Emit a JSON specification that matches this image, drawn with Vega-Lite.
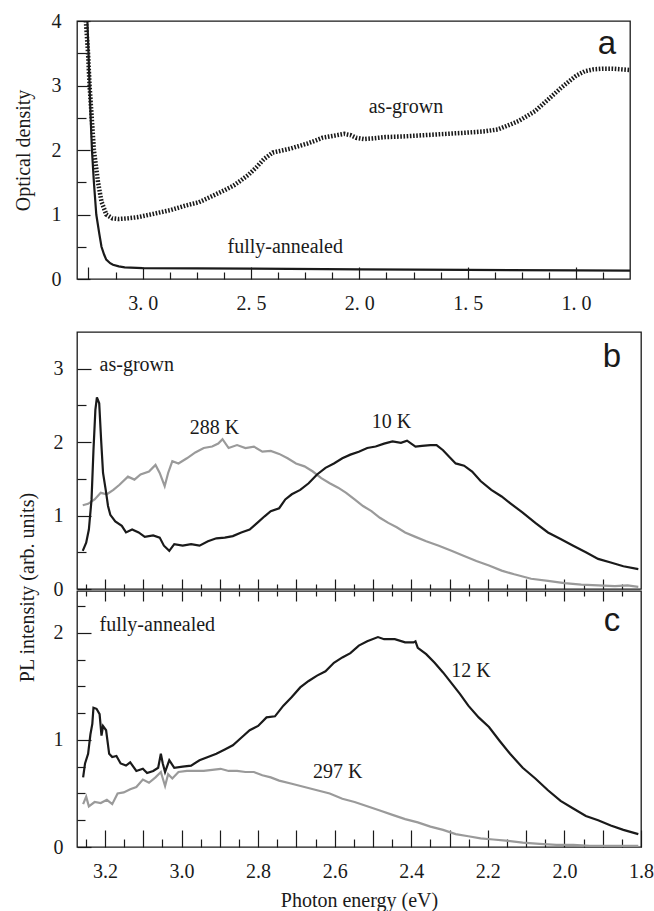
{
  "$schema": "https://vega.github.io/schema/vega-lite/v6.json",
  "padding": {"left": 12, "top": 10, "right": 4, "bottom": 0},
  "config": {
    "view": {"stroke": "#1a1a1a", "strokeWidth": 1.3},
    "axis": {"domain": false, "grid": false, "tickColor": "#1a1a1a", "tickWidth": 1.2,
      "labelFont": "Liberation Serif", "labelFontSize": 20, "labelColor": "#1a1a1a",
      "titleFont": "Liberation Serif", "titleFontSize": 20, "titleFontWeight": "normal", "titleColor": "#1a1a1a",
      "labelFlush": false, "labelOverlap": false, "labelBound": false}
  },
  "datasets": {
    "absorb": [
      {"E":3.268,"V":4.2,"s":"as-grown"},{"E":3.262,"V":4.0,"s":"as-grown"},{"E":3.252,"V":3.5,"s":"as-grown"},{"E":3.245,"V":3.0,"s":"as-grown"},{"E":3.235,"V":2.5,"s":"as-grown"},{"E":3.225,"V":2.0,"s":"as-grown"},{"E":3.206,"V":1.5,"s":"as-grown"},{"E":3.19,"V":1.2,"s":"as-grown"},{"E":3.168,"V":1.0,"s":"as-grown"},{"E":3.14,"V":0.94,"s":"as-grown"},{"E":3.11,"V":0.93,"s":"as-grown"},{"E":3.07,"V":0.94,"s":"as-grown"},{"E":3.02,"V":0.96,"s":"as-grown"},{"E":2.95,"V":1.01,"s":"as-grown"},{"E":2.87,"V":1.07,"s":"as-grown"},{"E":2.8,"V":1.14,"s":"as-grown"},{"E":2.74,"V":1.19,"s":"as-grown"},{"E":2.67,"V":1.3,"s":"as-grown"},{"E":2.62,"V":1.38,"s":"as-grown"},{"E":2.58,"V":1.45,"s":"as-grown"},{"E":2.55,"V":1.52,"s":"as-grown"},{"E":2.51,"V":1.62,"s":"as-grown"},{"E":2.476,"V":1.73,"s":"as-grown"},{"E":2.44,"V":1.86,"s":"as-grown"},{"E":2.4,"V":1.96,"s":"as-grown"},{"E":2.36,"V":1.99,"s":"as-grown"},{"E":2.32,"V":2.02,"s":"as-grown"},{"E":2.28,"V":2.06,"s":"as-grown"},{"E":2.24,"V":2.1,"s":"as-grown"},{"E":2.2,"V":2.15,"s":"as-grown"},{"E":2.17,"V":2.19,"s":"as-grown"},{"E":2.12,"V":2.22,"s":"as-grown"},{"E":2.07,"V":2.25,"s":"as-grown"},{"E":2.04,"V":2.23,"s":"as-grown"},{"E":2.015,"V":2.19,"s":"as-grown"},{"E":1.98,"V":2.17,"s":"as-grown"},{"E":1.94,"V":2.18,"s":"as-grown"},{"E":1.88,"V":2.2,"s":"as-grown"},{"E":1.8,"V":2.21,"s":"as-grown"},{"E":1.7,"V":2.23,"s":"as-grown"},{"E":1.6,"V":2.25,"s":"as-grown"},{"E":1.5,"V":2.27,"s":"as-grown"},{"E":1.42,"V":2.29,"s":"as-grown"},{"E":1.36,"V":2.32,"s":"as-grown"},{"E":1.33,"V":2.36,"s":"as-grown"},{"E":1.3,"V":2.4,"s":"as-grown"},{"E":1.265,"V":2.45,"s":"as-grown"},{"E":1.23,"V":2.52,"s":"as-grown"},{"E":1.19,"V":2.6,"s":"as-grown"},{"E":1.15,"V":2.72,"s":"as-grown"},{"E":1.11,"V":2.84,"s":"as-grown"},{"E":1.07,"V":2.96,"s":"as-grown"},{"E":1.03,"V":3.07,"s":"as-grown"},{"E":1.0,"V":3.15,"s":"as-grown"},{"E":0.96,"V":3.22,"s":"as-grown"},{"E":0.92,"V":3.25,"s":"as-grown"},{"E":0.88,"V":3.26,"s":"as-grown"},{"E":0.83,"V":3.26,"s":"as-grown"},{"E":0.79,"V":3.25,"s":"as-grown"},{"E":0.751,"V":3.24,"s":"as-grown"},
      {"E":3.262,"V":4.2,"s":"fully-annealed"},{"E":3.255,"V":4.0,"s":"fully-annealed"},{"E":3.25,"V":3.5,"s":"fully-annealed"},{"E":3.245,"V":3.0,"s":"fully-annealed"},{"E":3.24,"V":2.5,"s":"fully-annealed"},{"E":3.234,"V":2.0,"s":"fully-annealed"},{"E":3.225,"V":1.5,"s":"fully-annealed"},{"E":3.214,"V":1.0,"s":"fully-annealed"},{"E":3.2,"V":0.7,"s":"fully-annealed"},{"E":3.19,"V":0.5,"s":"fully-annealed"},{"E":3.178,"V":0.38,"s":"fully-annealed"},{"E":3.168,"V":0.3,"s":"fully-annealed"},{"E":3.15,"V":0.245,"s":"fully-annealed"},{"E":3.137,"V":0.22,"s":"fully-annealed"},{"E":3.11,"V":0.195,"s":"fully-annealed"},{"E":3.083,"V":0.18,"s":"fully-annealed"},{"E":3.0,"V":0.17,"s":"fully-annealed"},{"E":2.5,"V":0.16,"s":"fully-annealed"},{"E":2.0,"V":0.15,"s":"fully-annealed"},{"E":1.5,"V":0.14,"s":"fully-annealed"},{"E":1.0,"V":0.135,"s":"fully-annealed"},{"E":0.751,"V":0.13,"s":"fully-annealed"}
    ],
    "plb": [
      {"E":3.258,"V":0.52,"s":"10 K"},{"E":3.249,"V":0.63,"s":"10 K"},{"E":3.242,"V":0.81,"s":"10 K"},{"E":3.235,"V":1.22,"s":"10 K"},{"E":3.23,"V":1.89,"s":"10 K"},{"E":3.225,"V":2.44,"s":"10 K"},{"E":3.221,"V":2.61,"s":"10 K"},{"E":3.215,"V":2.53,"s":"10 K"},{"E":3.21,"V":2.03,"s":"10 K"},{"E":3.205,"V":1.58,"s":"10 K"},{"E":3.198,"V":1.35,"s":"10 K"},{"E":3.192,"V":1.13,"s":"10 K"},{"E":3.186,"V":1.01,"s":"10 K"},{"E":3.173,"V":0.92,"s":"10 K"},{"E":3.156,"V":0.86,"s":"10 K"},{"E":3.145,"V":0.77,"s":"10 K"},{"E":3.129,"V":0.81,"s":"10 K"},{"E":3.112,"V":0.77,"s":"10 K"},{"E":3.096,"V":0.71,"s":"10 K"},{"E":3.074,"V":0.73,"s":"10 K"},{"E":3.057,"V":0.7,"s":"10 K"},{"E":3.046,"V":0.59,"s":"10 K"},{"E":3.032,"V":0.52,"s":"10 K"},{"E":3.019,"V":0.61,"s":"10 K"},{"E":2.997,"V":0.59,"s":"10 K"},{"E":2.975,"V":0.61,"s":"10 K"},{"E":2.953,"V":0.59,"s":"10 K"},{"E":2.931,"V":0.65,"s":"10 K"},{"E":2.909,"V":0.69,"s":"10 K"},{"E":2.887,"V":0.7,"s":"10 K"},{"E":2.866,"V":0.72,"s":"10 K"},{"E":2.844,"V":0.77,"s":"10 K"},{"E":2.822,"V":0.81,"s":"10 K"},{"E":2.8,"V":0.91,"s":"10 K"},{"E":2.783,"V":0.99,"s":"10 K"},{"E":2.767,"V":1.06,"s":"10 K"},{"E":2.745,"V":1.1,"s":"10 K"},{"E":2.729,"V":1.22,"s":"10 K"},{"E":2.712,"V":1.29,"s":"10 K"},{"E":2.69,"V":1.35,"s":"10 K"},{"E":2.668,"V":1.44,"s":"10 K"},{"E":2.646,"V":1.56,"s":"10 K"},{"E":2.624,"V":1.65,"s":"10 K"},{"E":2.602,"V":1.71,"s":"10 K"},{"E":2.58,"V":1.78,"s":"10 K"},{"E":2.559,"V":1.83,"s":"10 K"},{"E":2.537,"V":1.87,"s":"10 K"},{"E":2.515,"V":1.92,"s":"10 K"},{"E":2.493,"V":1.94,"s":"10 K"},{"E":2.471,"V":1.98,"s":"10 K"},{"E":2.449,"V":2.01,"s":"10 K"},{"E":2.427,"V":1.99,"s":"10 K"},{"E":2.411,"V":2.02,"s":"10 K"},{"E":2.389,"V":1.94,"s":"10 K"},{"E":2.372,"V":1.95,"s":"10 K"},{"E":2.35,"V":1.96,"s":"10 K"},{"E":2.334,"V":1.96,"s":"10 K"},{"E":2.317,"V":1.89,"s":"10 K"},{"E":2.301,"V":1.8,"s":"10 K"},{"E":2.284,"V":1.71,"s":"10 K"},{"E":2.262,"V":1.68,"s":"10 K"},{"E":2.241,"V":1.6,"s":"10 K"},{"E":2.219,"V":1.47,"s":"10 K"},{"E":2.191,"V":1.35,"s":"10 K"},{"E":2.164,"V":1.26,"s":"10 K"},{"E":2.142,"V":1.17,"s":"10 K"},{"E":2.109,"V":1.04,"s":"10 K"},{"E":2.076,"V":0.9,"s":"10 K"},{"E":2.043,"V":0.77,"s":"10 K"},{"E":2.01,"V":0.68,"s":"10 K"},{"E":1.977,"V":0.59,"s":"10 K"},{"E":1.944,"V":0.5,"s":"10 K"},{"E":1.912,"V":0.41,"s":"10 K"},{"E":1.879,"V":0.36,"s":"10 K"},{"E":1.846,"V":0.31,"s":"10 K"},{"E":1.807,"V":0.27,"s":"10 K"},
      {"E":3.258,"V":1.14,"s":"288 K"},{"E":3.244,"V":1.16,"s":"288 K"},{"E":3.227,"V":1.22,"s":"288 K"},{"E":3.211,"V":1.31,"s":"288 K"},{"E":3.195,"V":1.29,"s":"288 K"},{"E":3.178,"V":1.35,"s":"288 K"},{"E":3.162,"V":1.42,"s":"288 K"},{"E":3.14,"V":1.53,"s":"288 K"},{"E":3.123,"V":1.49,"s":"288 K"},{"E":3.107,"V":1.56,"s":"288 K"},{"E":3.085,"V":1.6,"s":"288 K"},{"E":3.068,"V":1.69,"s":"288 K"},{"E":3.057,"V":1.58,"s":"288 K"},{"E":3.044,"V":1.4,"s":"288 K"},{"E":3.035,"V":1.58,"s":"288 K"},{"E":3.024,"V":1.74,"s":"288 K"},{"E":3.008,"V":1.71,"s":"288 K"},{"E":2.986,"V":1.78,"s":"288 K"},{"E":2.964,"V":1.86,"s":"288 K"},{"E":2.942,"V":1.92,"s":"288 K"},{"E":2.92,"V":1.94,"s":"288 K"},{"E":2.904,"V":1.98,"s":"288 K"},{"E":2.893,"V":2.04,"s":"288 K"},{"E":2.877,"V":1.92,"s":"288 K"},{"E":2.855,"V":1.96,"s":"288 K"},{"E":2.833,"V":1.92,"s":"288 K"},{"E":2.811,"V":1.94,"s":"288 K"},{"E":2.789,"V":1.87,"s":"288 K"},{"E":2.767,"V":1.88,"s":"288 K"},{"E":2.745,"V":1.84,"s":"288 K"},{"E":2.723,"V":1.78,"s":"288 K"},{"E":2.701,"V":1.71,"s":"288 K"},{"E":2.679,"V":1.67,"s":"288 K"},{"E":2.657,"V":1.6,"s":"288 K"},{"E":2.635,"V":1.51,"s":"288 K"},{"E":2.613,"V":1.44,"s":"288 K"},{"E":2.591,"V":1.38,"s":"288 K"},{"E":2.57,"V":1.31,"s":"288 K"},{"E":2.548,"V":1.22,"s":"288 K"},{"E":2.526,"V":1.13,"s":"288 K"},{"E":2.504,"V":1.06,"s":"288 K"},{"E":2.482,"V":0.97,"s":"288 K"},{"E":2.46,"V":0.9,"s":"288 K"},{"E":2.438,"V":0.84,"s":"288 K"},{"E":2.416,"V":0.77,"s":"288 K"},{"E":2.389,"V":0.71,"s":"288 K"},{"E":2.361,"V":0.65,"s":"288 K"},{"E":2.328,"V":0.59,"s":"288 K"},{"E":2.295,"V":0.52,"s":"288 K"},{"E":2.262,"V":0.45,"s":"288 K"},{"E":2.23,"V":0.38,"s":"288 K"},{"E":2.197,"V":0.32,"s":"288 K"},{"E":2.164,"V":0.25,"s":"288 K"},{"E":2.131,"V":0.2,"s":"288 K"},{"E":2.087,"V":0.14,"s":"288 K"},{"E":2.043,"V":0.11,"s":"288 K"},{"E":2.0,"V":0.08,"s":"288 K"},{"E":1.956,"V":0.06,"s":"288 K"},{"E":1.912,"V":0.05,"s":"288 K"},{"E":1.868,"V":0.04,"s":"288 K"},{"E":1.835,"V":0.05,"s":"288 K"},{"E":1.807,"V":0.03,"s":"288 K"}
    ],
    "plc": [
      {"E":3.257,"V":0.65,"s":"12 K"},{"E":3.252,"V":0.78,"s":"12 K"},{"E":3.244,"V":0.87,"s":"12 K"},{"E":3.238,"V":1.05,"s":"12 K"},{"E":3.233,"V":1.15,"s":"12 K"},{"E":3.23,"V":1.3,"s":"12 K"},{"E":3.222,"V":1.29,"s":"12 K"},{"E":3.214,"V":1.24,"s":"12 K"},{"E":3.209,"V":1.04,"s":"12 K"},{"E":3.205,"V":1.13,"s":"12 K"},{"E":3.197,"V":1.09,"s":"12 K"},{"E":3.189,"V":0.87,"s":"12 K"},{"E":3.181,"V":0.84,"s":"12 K"},{"E":3.17,"V":0.85,"s":"12 K"},{"E":3.159,"V":0.78,"s":"12 K"},{"E":3.145,"V":0.76,"s":"12 K"},{"E":3.134,"V":0.79,"s":"12 K"},{"E":3.118,"V":0.71,"s":"12 K"},{"E":3.101,"V":0.73,"s":"12 K"},{"E":3.09,"V":0.69,"s":"12 K"},{"E":3.074,"V":0.71,"s":"12 K"},{"E":3.061,"V":0.74,"s":"12 K"},{"E":3.054,"V":0.87,"s":"12 K"},{"E":3.049,"V":0.78,"s":"12 K"},{"E":3.043,"V":0.7,"s":"12 K"},{"E":3.032,"V":0.81,"s":"12 K"},{"E":3.019,"V":0.74,"s":"12 K"},{"E":2.997,"V":0.75,"s":"12 K"},{"E":2.975,"V":0.76,"s":"12 K"},{"E":2.953,"V":0.81,"s":"12 K"},{"E":2.931,"V":0.84,"s":"12 K"},{"E":2.909,"V":0.87,"s":"12 K"},{"E":2.887,"V":0.91,"s":"12 K"},{"E":2.866,"V":0.95,"s":"12 K"},{"E":2.844,"V":1.02,"s":"12 K"},{"E":2.822,"V":1.09,"s":"12 K"},{"E":2.8,"V":1.13,"s":"12 K"},{"E":2.778,"V":1.21,"s":"12 K"},{"E":2.756,"V":1.22,"s":"12 K"},{"E":2.734,"V":1.32,"s":"12 K"},{"E":2.712,"V":1.4,"s":"12 K"},{"E":2.69,"V":1.49,"s":"12 K"},{"E":2.668,"V":1.55,"s":"12 K"},{"E":2.646,"V":1.6,"s":"12 K"},{"E":2.624,"V":1.64,"s":"12 K"},{"E":2.602,"V":1.72,"s":"12 K"},{"E":2.58,"V":1.77,"s":"12 K"},{"E":2.559,"V":1.81,"s":"12 K"},{"E":2.537,"V":1.88,"s":"12 K"},{"E":2.515,"V":1.92,"s":"12 K"},{"E":2.487,"V":1.96,"s":"12 K"},{"E":2.471,"V":1.94,"s":"12 K"},{"E":2.443,"V":1.94,"s":"12 K"},{"E":2.416,"V":1.91,"s":"12 K"},{"E":2.394,"V":1.91,"s":"12 K"},{"E":2.389,"V":1.92,"s":"12 K"},{"E":2.383,"V":1.86,"s":"12 K"},{"E":2.361,"V":1.8,"s":"12 K"},{"E":2.339,"V":1.72,"s":"12 K"},{"E":2.317,"V":1.63,"s":"12 K"},{"E":2.295,"V":1.53,"s":"12 K"},{"E":2.273,"V":1.43,"s":"12 K"},{"E":2.251,"V":1.32,"s":"12 K"},{"E":2.224,"V":1.21,"s":"12 K"},{"E":2.197,"V":1.12,"s":"12 K"},{"E":2.169,"V":0.99,"s":"12 K"},{"E":2.142,"V":0.87,"s":"12 K"},{"E":2.109,"V":0.74,"s":"12 K"},{"E":2.076,"V":0.64,"s":"12 K"},{"E":2.043,"V":0.53,"s":"12 K"},{"E":2.01,"V":0.43,"s":"12 K"},{"E":1.977,"V":0.36,"s":"12 K"},{"E":1.944,"V":0.29,"s":"12 K"},{"E":1.912,"V":0.25,"s":"12 K"},{"E":1.879,"V":0.2,"s":"12 K"},{"E":1.846,"V":0.16,"s":"12 K"},{"E":1.807,"V":0.12,"s":"12 K"},
      {"E":3.257,"V":0.4,"s":"297 K"},{"E":3.249,"V":0.47,"s":"297 K"},{"E":3.242,"V":0.38,"s":"297 K"},{"E":3.227,"V":0.42,"s":"297 K"},{"E":3.211,"V":0.41,"s":"297 K"},{"E":3.195,"V":0.44,"s":"297 K"},{"E":3.181,"V":0.4,"s":"297 K"},{"E":3.167,"V":0.5,"s":"297 K"},{"E":3.151,"V":0.51,"s":"297 K"},{"E":3.134,"V":0.54,"s":"297 K"},{"E":3.118,"V":0.56,"s":"297 K"},{"E":3.101,"V":0.63,"s":"297 K"},{"E":3.085,"V":0.6,"s":"297 K"},{"E":3.068,"V":0.65,"s":"297 K"},{"E":3.054,"V":0.7,"s":"297 K"},{"E":3.043,"V":0.57,"s":"297 K"},{"E":3.035,"V":0.68,"s":"297 K"},{"E":3.024,"V":0.64,"s":"297 K"},{"E":3.008,"V":0.7,"s":"297 K"},{"E":2.986,"V":0.71,"s":"297 K"},{"E":2.964,"V":0.71,"s":"297 K"},{"E":2.942,"V":0.71,"s":"297 K"},{"E":2.92,"V":0.72,"s":"297 K"},{"E":2.898,"V":0.73,"s":"297 K"},{"E":2.877,"V":0.71,"s":"297 K"},{"E":2.855,"V":0.71,"s":"297 K"},{"E":2.833,"V":0.7,"s":"297 K"},{"E":2.811,"V":0.7,"s":"297 K"},{"E":2.789,"V":0.67,"s":"297 K"},{"E":2.767,"V":0.65,"s":"297 K"},{"E":2.745,"V":0.62,"s":"297 K"},{"E":2.712,"V":0.59,"s":"297 K"},{"E":2.679,"V":0.56,"s":"297 K"},{"E":2.646,"V":0.53,"s":"297 K"},{"E":2.613,"V":0.5,"s":"297 K"},{"E":2.58,"V":0.45,"s":"297 K"},{"E":2.548,"V":0.42,"s":"297 K"},{"E":2.515,"V":0.38,"s":"297 K"},{"E":2.482,"V":0.34,"s":"297 K"},{"E":2.449,"V":0.3,"s":"297 K"},{"E":2.416,"V":0.26,"s":"297 K"},{"E":2.383,"V":0.23,"s":"297 K"},{"E":2.35,"V":0.19,"s":"297 K"},{"E":2.317,"V":0.16,"s":"297 K"},{"E":2.284,"V":0.12,"s":"297 K"},{"E":2.251,"V":0.1,"s":"297 K"},{"E":2.219,"V":0.08,"s":"297 K"},{"E":2.186,"V":0.07,"s":"297 K"},{"E":2.153,"V":0.06,"s":"297 K"},{"E":2.109,"V":0.04,"s":"297 K"},{"E":2.065,"V":0.03,"s":"297 K"},{"E":2.021,"V":0.02,"s":"297 K"},{"E":1.977,"V":0.02,"s":"297 K"},{"E":1.934,"V":0.01,"s":"297 K"},{"E":1.89,"V":0.01,"s":"297 K"},{"E":1.846,"V":0.01,"s":"297 K"},{"E":1.807,"V":0.01,"s":"297 K"}
    ],
    "annoA": [{"E":1.785,"V":2.66,"label":"as-grown"},{"E":2.342,"V":0.5,"label":"fully-annealed"}],
    "letterA": [{"E":0.857,"V":3.64,"label":"a"}],
    "annoB": [{"E":2.914,"V":2.19,"label":"288 K"},{"E":2.452,"V":2.28,"label":"10 K"}],
    "annoBleft": [{"E":3.214,"V":3.05,"label":"as-grown"}],
    "letterB": [{"E":1.876,"V":3.16,"label":"b"}],
    "annoC": [{"E":2.244,"V":1.64,"label":"12 K"},{"E":2.592,"V":0.7,"label":"297 K"}],
    "annoCleft": [{"E":3.214,"V":2.07,"label":"fully-annealed"}],
    "letterC": [{"E":1.876,"V":2.11,"label":"c"}]
  },
  "spacing": 12,
  "vconcat": [
    {
      "width": 553, "height": 258,
      "encoding": {
        "x": {"field": "E", "type": "quantitative",
          "scale": {"domain": [0.751, 3.303], "reverse": true, "zero": false, "nice": false},
          "axis": {"orient": "bottom", "title": null,
            "values": [3.25,3.125,3,2.875,2.75,2.625,2.5,2.375,2.25,2.125,2,1.875,1.75,1.625,1.5,1.375,1.25,1.125,1,0.875],
            "tickSize": {"condition": {"test": "datum.value % 0.5 == 0 || datum.value > 3.2", "value": -12}, "value": -7},
            "labelPadding": 26,
            "labelExpr": "datum.value % 0.5 == 0 ? replace(format(datum.value, '.1f'), '.', '. ') : ''"}},
        "y": {"field": "V", "type": "quantitative",
          "scale": {"domain": [0, 4], "nice": false},
          "axis": {"title": "Optical density", "values": [0,0.5,1,1.5,2,2.5,3,3.5,4],
            "tickSize": {"condition": {"test": "datum.value % 1 == 0", "value": -13}, "value": -9},
            "labelPadding": 29, "titlePadding": 18,
            "labelExpr": "datum.value % 1 == 0 ? format(datum.value, 'd') : ''"}}
      },
      "layer": [
        {"data": {"name": "absorb"}, "transform": [{"filter": "datum.s == 'as-grown'"}],
          "mark": {"type": "line", "strokeWidth": 4.5, "strokeDash": [1.6, 1.6], "color": "#1a1a1a", "clip": true}},
        {"data": {"name": "absorb"}, "transform": [{"filter": "datum.s == 'fully-annealed'"}],
          "mark": {"type": "line", "strokeWidth": 2.2, "color": "#1a1a1a", "clip": true}},
        {"data": {"name": "annoA"}, "mark": {"type": "text", "align": "center", "baseline": "middle", "font": "Liberation Serif", "fontSize": 20, "color": "#1a1a1a"},
          "encoding": {"text": {"field": "label"}}},
        {"data": {"name": "letterA"}, "mark": {"type": "text", "align": "center", "baseline": "middle", "font": "Liberation Sans", "fontSize": 33, "color": "#1a1a1a"},
          "encoding": {"text": {"field": "label"}}}
      ]
    },
    {
      "spacing": 2,
      "bounds": "flush",
      "vconcat": [
        {
          "width": 564, "height": 257,
          "encoding": {
            "x": {"field": "E", "type": "quantitative",
              "scale": {"domain": [1.8, 3.273], "reverse": true, "zero": false, "nice": false},
              "axis": {"orient": "bottom", "title": null, "labels": false,
                "values": [3.25,3.2,3.15,3.1,3.05,3.0,2.95,2.9,2.85,2.8,2.75,2.7,2.65,2.6,2.55,2.5,2.45,2.4,2.35,2.3,2.25,2.2,2.15,2.1,2.05,2.0,1.95,1.9,1.85],
                "tickSize": {"condition": {"test": "abs(datum.value*10 - round(datum.value*10)) < 0.01", "value": -10}, "value": -5}}},
            "y": {"field": "V", "type": "quantitative",
              "scale": {"domain": [0, 3.5], "nice": false},
              "axis": {"title": null, "values": [0,0.5,1,1.5,2,2.5,3],
                "tickSize": {"condition": {"test": "datum.value % 1 == 0", "value": -14}, "value": -9},
                "labelPadding": 28,
                "labelExpr": "datum.value % 1 == 0 ? format(datum.value, 'd') : ''"}}
          },
          "layer": [
            {"data": {"name": "plb"}, "transform": [{"filter": "datum.s == '288 K'"}],
              "mark": {"type": "line", "strokeWidth": 2.2, "color": "#9a9a9a", "clip": true}},
            {"data": {"name": "plb"}, "transform": [{"filter": "datum.s == '10 K'"}],
              "mark": {"type": "line", "strokeWidth": 2.2, "color": "#1a1a1a", "clip": true}},
            {"data": {"name": "annoB"}, "mark": {"type": "text", "align": "center", "baseline": "middle", "font": "Liberation Serif", "fontSize": 20, "color": "#1a1a1a"},
              "encoding": {"text": {"field": "label"}}},
            {"data": {"name": "annoBleft"}, "mark": {"type": "text", "align": "left", "baseline": "middle", "font": "Liberation Serif", "fontSize": 20, "color": "#1a1a1a"},
              "encoding": {"text": {"field": "label"}}},
            {"data": {"name": "letterB"}, "mark": {"type": "text", "align": "center", "baseline": "middle", "font": "Liberation Sans", "fontSize": 33, "color": "#1a1a1a"},
              "encoding": {"text": {"field": "label"}}}
          ]
        },
        {
          "width": 564, "height": 256,
          "resolve": {"axis": {"x": "independent"}},
          "encoding": {
            "y": {"field": "V", "type": "quantitative",
              "scale": {"domain": [0, 2.39], "nice": false},
              "axis": {"title": "PL intensity (arb. units)", "titleY": -4, "titlePadding": 16,
                "values": [0,0.25,0.5,0.75,1,1.25,1.5,1.75,2,2.25],
                "tickSize": {"condition": {"test": "datum.value % 1 == 0", "value": -14}, "value": -8},
                "labelPadding": 28,
                "labelExpr": "datum.value % 1 == 0 ? format(datum.value, 'd') : ''"}}
          },
          "layer": [
            {"data": {"name": "plc"}, "transform": [{"filter": "datum.s == '12 K'"}],
              "mark": {"type": "line", "strokeWidth": 2.2, "color": "#1a1a1a", "clip": true},
              "encoding": {"x": {"field": "E", "type": "quantitative",
                "scale": {"domain": [1.8, 3.273], "reverse": true, "zero": false, "nice": false},
                "axis": {"orient": "bottom", "title": "Photon energy (eV)", "titlePadding": 0,
                  "values": [3.25,3.2,3.15,3.1,3.05,3.0,2.95,2.9,2.85,2.8,2.75,2.7,2.65,2.6,2.55,2.5,2.45,2.4,2.35,2.3,2.25,2.2,2.15,2.1,2.05,2.0,1.95,1.9,1.85,1.8],
                  "tickSize": {"condition": {"test": "abs(datum.value*10 - round(datum.value*10)) < 0.01", "value": -17}, "value": -8},
                  "labelPadding": 31,
                  "labelExpr": "abs(datum.value*5 - round(datum.value*5)) < 0.01 ? format(datum.value, '.1f') : ''"}}}},
            {"data": {"name": "plc"}, "transform": [{"filter": "datum.s == '297 K'"}],
              "mark": {"type": "line", "strokeWidth": 2.2, "color": "#9a9a9a", "clip": true},
              "encoding": {"x": {"field": "E", "type": "quantitative",
                "scale": {"domain": [1.8, 3.273], "reverse": true, "zero": false, "nice": false},
                "axis": {"orient": "top", "title": null, "labels": false,
                  "values": [3.25,3.2,3.15,3.1,3.05,3.0,2.95,2.9,2.85,2.8,2.75,2.7,2.65,2.6,2.55,2.5,2.45,2.4,2.35,2.3,2.25,2.2,2.15,2.1,2.05,2.0,1.95,1.9,1.85],
                  "tickSize": {"condition": {"test": "abs(datum.value*10 - round(datum.value*10)) < 0.01", "value": -10}, "value": -5}}}}},
            {"data": {"name": "annoC"}, "mark": {"type": "text", "align": "center", "baseline": "middle", "font": "Liberation Serif", "fontSize": 20, "color": "#1a1a1a"},
              "encoding": {"x": {"field": "E", "type": "quantitative", "scale": {"domain": [1.8, 3.273], "reverse": true, "zero": false, "nice": false}, "axis": null},
                "text": {"field": "label"}}},
            {"data": {"name": "annoCleft"}, "mark": {"type": "text", "align": "left", "baseline": "middle", "font": "Liberation Serif", "fontSize": 20, "color": "#1a1a1a"},
              "encoding": {"x": {"field": "E", "type": "quantitative", "scale": {"domain": [1.8, 3.273], "reverse": true, "zero": false, "nice": false}, "axis": null},
                "text": {"field": "label"}}},
            {"data": {"name": "letterC"}, "mark": {"type": "text", "align": "center", "baseline": "middle", "font": "Liberation Sans", "fontSize": 33, "color": "#1a1a1a"},
              "encoding": {"x": {"field": "E", "type": "quantitative", "scale": {"domain": [1.8, 3.273], "reverse": true, "zero": false, "nice": false}, "axis": null},
                "text": {"field": "label"}}}
          ]
        }
      ]
    }
  ]
}
